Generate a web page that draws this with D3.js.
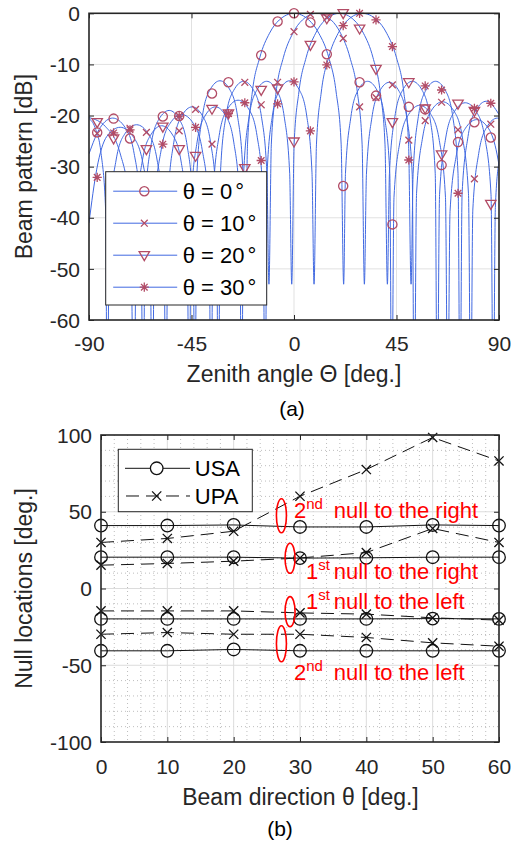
<!DOCTYPE html>
<html><head><meta charset="utf-8">
<script src="https://cdn.jsdelivr.net/npm/d3@7"></script>
<style>
body{margin:0;background:#fff}
svg{display:block}
text{font-family:'Liberation Sans',Arial,Helvetica,sans-serif}
</style>
</head><body>
<svg id="c" width="521" height="844"></svg>
<script>
// ---------------- Panel (a) data ----------------
const zenithTicks = [-90, -45, 0, 45, 90];
const dbTicks = [0, -10, -20, -30, -40, -50, -60];
const beamLabels = ["θ = 0", "θ = 10", "θ = 20", "θ = 30"];
// sample angles where markers are shown
const markerAngles = [-86.4,-79.2,-72,-64.8,-57.6,-50.4,-43.2,-36,-28.8,-21.6,-14.4,-7.2,0,7.2,14.4,21.6,28.8,36,43.2,50.4,57.6,64.8,72,79.2,86.4];
const marks0  = [-23.3,-20.6,-24.5,-33.4,-20.2,-20.1,null,-15.7,-13.5,null,-8.2,-1.6,0,-1.8,-8.0,-33.8,-13.5,-16.1,-41.3,-18.3,-18.8,-29.7,-25.2,-21.3,-24.3];
const marks10 = [-23.5,null,-22.5,-23.3,null,-23.0,-18.8,-25.6,-19.6,-13.5,-17.9,-13.5,-3.6,-0.2,-0.8,-4.9,-18.3,-16.5,-14.0,-24.8,-21.0,-17.4,-22.8,-32.4,-21.7];
const marks20 = [-21.3,-24.5,null,-26.6,-22.2,-26.6,-27.9,-18.7,-19.6,-30.3,-15.0,-14.7,-25.1,-6.2,-1.0,0,-3.0,-10.9,-21.3,-13.5,-18.6,-27.6,-17.7,-19.1,-37.3];
const marks30 = [-32.1,-23.4,-22.8,null,-25.6,-20.1,-22.3,null,-19.6,-17.5,-28.8,-17.7,-13.4,-23.0,-10.1,-2.4,0,-1.3,-6.5,-28.7,-14.2,-15.0,-35.2,-18.6,-17.6];
// beam pattern traces [zenith angle, dB]
const curve0 = [[-90,-27.5],[-85.0,-22.3],[-79.6,-20.5],[-74.2,-22.3],[-70.2,-27.4],[-67.3,-38.5],[-66.2,-80],
 [-65.3,-37],[-62.8,-25.9],[-59.4,-20.8],[-54.8,-19.0],[-50.3,-20.8],[-46.9,-25.9],[-44.4,-37],[-43.5,-80],
 [-42.6,-31.2],[-40.2,-20.1],[-36.9,-15.0],[-32.5,-13.2],[-28.1,-15.0],[-24.8,-20.1],[-22.4,-31.2],[-21.5,-53],
 [-20.4,-25.6],[-18.3,-15.4],[-15.05,-8.7],[-10.75,-3.9],[-6.45,-1.3],[0,0],[6.5,-1.3],[10.9,-3.9],[15.3,-8.7],[18.5,-15.4],[20.7,-25.6],[21.8,-53],
 [22.6,-31.3],[25.0,-20.2],[28.1,-15.1],[32.3,-13.3],[36.5,-15.1],[39.7,-20.2],[42.05,-31.3],[42.9,-80],
 [43.9,-36],[46.6,-24.9],[50.3,-19.8],[55.2,-18],[60.1,-19.8],[63.8,-24.9],[66.5,-36],[67.5,-80],
 [68.5,-38.8],[71.3,-27.7],[75.1,-22.6],[80.2,-20.8],[85.5,-22.6],[89.2,-27.7],[90,-29.7]];
const curve10 = [[-90,-20.6],[-87.4,-22.3],[-84.7,-27.4],[-82.7,-38.5],[-82,-80],
 [-81.0,-39.8],[-78.1,-28.7],[-74.3,-23.6],[-69.1,-21.8],[-63.9,-23.6],[-60.1,-28.7],[-57.2,-39.8],[-56.2,-80],
 [-55.3,-36.3],[-52.75,-25.2],[-49.3,-20.1],[-44.7,-18.3],[-40.1,-20.1],[-36.65,-25.2],[-34.1,-36.3],[-33.2,-80],
 [-32.3,-31.3],[-29.9,-20.2],[-26.5,-15.1],[-22.1,-13.3],[-17.7,-15.1],[-14.3,-20.2],[-11.9,-31.3],[-11,-53],
 [-9.95,-25.6],[-7.85,-15.4],[-4.7,-8.7],[-0.5,-3.9],[3.7,-1.3],[10,0],[16.3,-1.3],[20.45,-3.9],[24.6,-8.7],[27.8,-15.4],[29.9,-25.6],[30.9,-53],
 [31.8,-31.5],[34.2,-20.4],[37.5,-15.3],[41.85,-13.5],[46.2,-15.3],[49.5,-20.4],[51.9,-31.5],[52.8,-80],
 [53.8,-35.3],[56.5,-24.2],[60.2,-19.1],[65.2,-17.3],[70.2,-19.1],[73.9,-24.2],[76.6,-35.3],[77.6,-80],
 [78.5,-38.5],[81.1,-27.4],[84.6,-22.3],[89.3,-20.5],[90,-20.6]];
const curve20 = [[-90,-20.4],[-82.7,-22.2],[-76.4,-27.3],[-71.9,-38.4],[-70.2,-80],
 [-69.2,-40],[-66.6,-28.9],[-62.9,-23.8],[-58.1,-22],[-53.3,-23.8],[-49.6,-28.9],[-47.0,-40],[-46,-80],
 [-45.1,-36.3],[-42.55,-25.2],[-39.1,-20.1],[-34.5,-18.3],[-29.9,-20.1],[-26.45,-25.2],[-23.9,-36.3],[-23,-80],
 [-22.1,-31.3],[-19.7,-20.2],[-16.4,-15.1],[-12,-13.3],[-7.6,-15.1],[-4.3,-20.2],[-1.9,-31.3],[-1,-53],
 [0.05,-25.6],[2.15,-15.4],[5.3,-8.7],[9.5,-3.9],[13.7,-1.3],[20,0],[26.3,-1.3],[30.5,-3.9],[34.7,-8.7],[37.85,-15.4],[39.95,-25.6],[41,-53],
 [41.9,-31.3],[44.3,-20.2],[47.6,-15.1],[51.95,-13.3],[56.3,-15.1],[59.6,-20.2],[62.0,-31.3],[62.9,-80],
 [63.9,-35.5],[66.6,-24.4],[70.3,-19.3],[75.2,-17.5],[80.1,-19.3],[83.8,-24.4],[86.5,-35.5],[87.5,-80],
 [88.4,-38],[90,-29.1]];
const curve30 = [[-90,-41],[-86.6,-30.5],[-82.2,-24.1],[-76.3,-22.3],[-70.7,-24.1],[-66.4,-29.2],[-63.3,-40.3],[-62.2,-80],
 [-61.2,-37.8],[-58.3,-26.7],[-54.5,-21.6],[-49.3,-19.8],[-44.1,-21.6],[-40.3,-26.7],[-37.4,-37.8],[-36.4,-80],
 [-35.45,-35],[-32.85,-23.9],[-29.3,-18.8],[-24.55,-17],[-19.8,-18.8],[-16.25,-23.9],[-13.65,-35],[-12.7,-80],
 [-11.8,-31.2],[-9.5,-20.1],[-6.25,-15],[-1.95,-13.2],[2.35,-15],[5.6,-20.1],[7.9,-31.2],[8.8,-53],
 [9.86,-25.6],[11.98,-15.4],[15.16,-8.7],[19.4,-3.9],[23.64,-1.3],[30,0],[36.4,-1.3],[40.7,-3.9],[45.0,-8.7],[48.2,-15.4],[50.3,-25.6],[51.4,-53],
 [52.3,-31.3],[54.6,-20.2],[57.85,-15.1],[62.15,-13.3],[66.45,-15.1],[69.7,-20.2],[72.0,-31.3],[72.9,-80],
 [73.8,-35.2],[76.4,-24.1],[79.8,-19],[84.45,-17.2],[90,-19.8]];

// ---------------- Panel (b) data ----------------
const beamDirs = [0, 10, 20, 30, 40, 50, 60];
const nullTicks = [-100, -50, 0, 50, 100];
const seriesNames = ["USA", "UPA"];
const usaRight2 = [41.0, 41.0, 41.4, 40.1, 40.1, 41.4, 41.0];
const usaRight1 = [20.4, 20.4, 20.4, 19.8, 20.0, 20.4, 20.4];
const usaLeft1  = [-19.8, -19.8, -19.8, -19.8, -19.8, -19.6, -19.8];
const usaLeft2  = [-40.6, -40.6, -39.7, -40.6, -40.6, -40.6, -40.6];
const upaRight2 = [30.0, 32.6, 37.3, 60.1, 77.5, 98.4, 83.1];
const upaRight1 = [15.2, 16.3, 17.8, 19.9, 23.4, 39.1, 30.0];
const upaLeft1  = [-14.6, -14.6, -14.6, -15.9, -16.7, -19.1, -20.6];
const upaLeft2  = [-29.8, -28.7, -29.8, -29.8, -31.9, -35.4, -37.6];

// ---------------- drawing ----------------
const INK = "#262626";
const BLUE = "#4169e1";
const MARK = "#b24c66";
const FONT = "'Liberation Sans',Arial,Helvetica,sans-serif";
const DASH = "13,7";
const svg = d3.select("#c");
const defs = svg.append("defs");

const symbols = {
  circle: g => g.append("circle").attr("r", 4.6),
  cross: g => g.append("path").attr("d", "M-3.4,-3.4L3.4,3.4M-3.4,3.4L3.4,-3.4"),
  tri: g => g.append("path").attr("d", "M-5.2,-3.6L5.2,-3.6L0,5.4Z"),
  star: g => g.append("path").attr("d", "M-4.6,0H4.6M0,-4.6V4.6M-3.3,-3.3L3.3,3.3M-3.3,3.3L3.3,-3.3")
};

function styleAxis(g) {
  g.select(".domain").remove();
  g.selectAll(".tick line").attr("stroke", INK).attr("stroke-width", 1);
  g.selectAll("text").attr("fill", INK).style("font-size", "21px").style("font-family", FONT);
}

// ===== Panel (a) =====
const xA = d3.scaleLinear().domain([-90, 90]).range([89, 499]);
const yA = d3.scaleLinear().domain([-60, 0]).range([320, 13.3]);
const gA = svg.append("g");

defs.append("clipPath").attr("id", "clipA").append("rect")
  .attr("x", xA(-90)).attr("y", yA(0)).attr("width", xA(90) - xA(-90)).attr("height", yA(-60) - yA(0));

gA.selectAll("line.gx").data(zenithTicks.slice(1, -1)).join("line")
  .attr("x1", d => xA(d)).attr("x2", d => xA(d)).attr("y1", yA(0)).attr("y2", yA(-60))
  .attr("stroke", "#e1e1e1").attr("stroke-width", 1);
gA.selectAll("line.gy").data(dbTicks.slice(1, -1)).join("line")
  .attr("y1", d => yA(d)).attr("y2", d => yA(d)).attr("x1", xA(-90)).attr("x2", xA(90))
  .attr("stroke", "#e1e1e1").attr("stroke-width", 1);

const curves = [curve0, curve10, curve20, curve30];
const marks = [marks0, marks10, marks20, marks30];
const symA = ["circle", "cross", "tri", "star"];
const lineA = d3.line().x(d => xA(d[0])).y(d => yA(d[1])).curve(d3.curveMonotoneX);

const gCurves = gA.append("g").attr("clip-path", "url(#clipA)");
curves.forEach(c => {
  gCurves.append("path").datum(c).attr("d", lineA)
    .attr("fill", "none").attr("stroke", BLUE).attr("stroke-width", 1);
});

marks.forEach((m, s) => {
  const pts = markerAngles.map((a, i) => [a, m[i]]).filter(p => p[1] !== null);
  const gm = gA.append("g").attr("fill", "none").attr("stroke", MARK).attr("stroke-width", 1.3);
  pts.forEach(p => {
    const g = gm.append("g").attr("transform", `translate(${xA(p[0])},${yA(p[1])})`);
    symbols[symA[s]](g);
  });
});

// axes
gA.append("g").attr("transform", `translate(0,${yA(-60)})`)
  .call(d3.axisBottom(xA).tickValues(zenithTicks).tickSize(-5).tickSizeOuter(0).tickFormat(d => String(d)))
  .call(styleAxis).call(g => g.selectAll("text").attr("y", 16.5).attr("dy", "0.71em"));
gA.append("g").attr("transform", `translate(0,${yA(0)})`)
  .call(d3.axisTop(xA).tickValues(zenithTicks).tickSize(-5).tickSizeOuter(0).tickFormat(""))
  .call(styleAxis);
gA.append("g").attr("transform", `translate(${xA(-90)},0)`)
  .call(d3.axisLeft(yA).tickValues(dbTicks).tickSize(-5).tickSizeOuter(0).tickFormat(d => String(d)))
  .call(styleAxis).call(g => g.selectAll("text").attr("x", -9).attr("dy", "0.34em"));
gA.append("g").attr("transform", `translate(${xA(90)},0)`)
  .call(d3.axisRight(yA).tickValues(dbTicks).tickSize(-5).tickSizeOuter(0).tickFormat(""))
  .call(styleAxis);
gA.append("rect").attr("x", xA(-90)).attr("y", yA(0)).attr("width", xA(90) - xA(-90)).attr("height", yA(-60) - yA(0))
  .attr("fill", "none").attr("stroke", INK).attr("stroke-width", 1.6);

// legend (a)
const legA = gA.append("g").attr("transform", "translate(105.7,171.7)");
legA.append("rect").attr("width", 161).attr("height", 133.3).attr("fill", "#fff").attr("stroke", INK).attr("stroke-width", 1);
beamLabels.forEach((lab, i) => {
  const y = 19.5 + i * 32;
  legA.append("line").attr("x1", 7.5).attr("x2", 71.5).attr("y1", y).attr("y2", y).attr("stroke", BLUE).attr("stroke-width", 1);
  const g = legA.append("g").attr("transform", `translate(38.6,${y})`)
    .attr("fill", "none").attr("stroke", MARK).attr("stroke-width", 1.3);
  symbols[symA[i]](g);
  const t = legA.append("text").attr("x", 77).attr("y", y + 8).attr("fill", "#000").style("font-size", "22px");
  t.append("tspan").text(lab);
  t.append("tspan").attr("dx", 3).text("°");
});

// labels (a)
svg.append("text").attr("transform", `translate(32,${(yA(0) + yA(-60)) / 2}) rotate(-90)`)
  .attr("text-anchor", "middle").attr("fill", INK).style("font-size", "23px").text("Beam pattern [dB]");
svg.append("text").attr("x", (xA(-90) + xA(90)) / 2).attr("y", 381.5)
  .attr("text-anchor", "middle").attr("fill", INK).style("font-size", "23px").text("Zenith angle Θ [deg.]");
svg.append("text").attr("x", 292).attr("y", 416).attr("text-anchor", "middle").attr("fill", "#000")
  .style("font-size", "21px").text("(a)");

// ===== Panel (b) =====
const xB = d3.scaleLinear().domain([0, 60]).range([101, 499]);
const yB = d3.scaleLinear().domain([-100, 100]).range([742, 435]);
const gB = svg.append("g");

const minorX = d3.range(2, 60, 2).filter(v => v % 10 !== 0);
const minorY = d3.range(-90, 100, 10).filter(v => v % 50 !== 0);
gB.selectAll("line.mx").data(minorX).join("line")
  .attr("x1", d => xB(d)).attr("x2", d => xB(d)).attr("y1", yB(100)).attr("y2", yB(-100))
  .attr("stroke", "#bdbdbd").attr("stroke-width", 1).attr("stroke-dasharray", "1,3");
gB.selectAll("line.my").data(minorY).join("line")
  .attr("y1", d => yB(d)).attr("y2", d => yB(d)).attr("x1", xB(0)).attr("x2", xB(60))
  .attr("stroke", "#bdbdbd").attr("stroke-width", 1).attr("stroke-dasharray", "1,3");
gB.selectAll("line.gx").data(beamDirs.slice(1, -1)).join("line")
  .attr("x1", d => xB(d)).attr("x2", d => xB(d)).attr("y1", yB(100)).attr("y2", yB(-100))
  .attr("stroke", "#dcdcdc").attr("stroke-width", 1);
gB.selectAll("line.gy").data(nullTicks.slice(1, -1)).join("line")
  .attr("y1", d => yB(d)).attr("y2", d => yB(d)).attr("x1", xB(0)).attr("x2", xB(60))
  .attr("stroke", "#dcdcdc").attr("stroke-width", 1);

const lineB = d3.line().x((d, i) => xB(beamDirs[i])).y(d => yB(d));
const usa = [usaRight2, usaRight1, usaLeft1, usaLeft2];
const upa = [upaRight2, upaRight1, upaLeft1, upaLeft2];
upa.forEach(s => {
  gB.append("path").datum(s).attr("d", lineB).attr("fill", "none").attr("stroke", "#111")
    .attr("stroke-width", 1).attr("stroke-dasharray", DASH);
});
usa.forEach(s => {
  gB.append("path").datum(s).attr("d", lineB).attr("fill", "none").attr("stroke", "#111").attr("stroke-width", 1);
});
usa.forEach(s => {
  gB.append("g").selectAll("circle").data(s).join("circle")
    .attr("cx", (d, i) => xB(beamDirs[i])).attr("cy", d => yB(d)).attr("r", 6.3)
    .attr("fill", "none").attr("stroke", "#111").attr("stroke-width", 1.3);
});
upa.forEach(s => {
  gB.append("g").selectAll("path").data(s).join("path")
    .attr("transform", (d, i) => `translate(${xB(beamDirs[i])},${yB(d)})`)
    .attr("d", "M-4.6,-4.6L4.6,4.6M-4.6,4.6L4.6,-4.6")
    .attr("fill", "none").attr("stroke", "#111").attr("stroke-width", 1.3);
});

gB.append("g").attr("transform", `translate(0,${yB(-100)})`)
  .call(d3.axisBottom(xB).tickValues(beamDirs).tickSize(-5).tickSizeOuter(0).tickFormat(d => String(d)))
  .call(styleAxis).call(g => g.selectAll("text").attr("y", 17).attr("dy", "0.71em"));
gB.append("g").attr("transform", `translate(0,${yB(100)})`)
  .call(d3.axisTop(xB).tickValues(beamDirs).tickSize(-5).tickSizeOuter(0).tickFormat(""))
  .call(styleAxis);
gB.append("g").attr("transform", `translate(${xB(0)},0)`)
  .call(d3.axisLeft(yB).tickValues(nullTicks).tickSize(-5).tickSizeOuter(0).tickFormat(d => String(d)))
  .call(styleAxis).call(g => g.selectAll("text").attr("x", -9).attr("dy", "0.34em"));
gB.append("g").attr("transform", `translate(${xB(60)},0)`)
  .call(d3.axisRight(yB).tickValues(nullTicks).tickSize(-5).tickSizeOuter(0).tickFormat(""))
  .call(styleAxis);
gB.append("rect").attr("x", xB(0)).attr("y", yB(100)).attr("width", xB(60) - xB(0)).attr("height", yB(-100) - yB(100))
  .attr("fill", "none").attr("stroke", INK).attr("stroke-width", 1.6);

// legend (b)
const legB = gB.append("g").attr("transform", "translate(118.3,449.3)");
legB.append("rect").attr("width", 134).attr("height", 62.4).attr("fill", "#fff").attr("stroke", INK).attr("stroke-width", 1);
seriesNames.forEach((name, i) => {
  const y = 19 + i * 27.7;
  const ln = legB.append("line").attr("x1", 6.7).attr("x2", 71.7).attr("y1", y).attr("y2", y)
    .attr("stroke", "#111").attr("stroke-width", 1);
  if (i === 0) {
    legB.append("circle").attr("cx", 38.4).attr("cy", y).attr("r", 6.3).attr("fill", "#fff").attr("stroke", "#111").attr("stroke-width", 1.3);
  } else {
    ln.attr("stroke-dasharray", DASH).attr("stroke-dashoffset", -1);
    legB.append("path").attr("transform", `translate(38.4,${y})`).attr("d", "M-4.6,-4.6L4.6,4.6M-4.6,4.6L4.6,-4.6")
      .attr("fill", "none").attr("stroke", "#111").attr("stroke-width", 1.3);
  }
  legB.append("text").attr("x", 76.5).attr("y", y + 8).attr("fill", "#000").style("font-size", "22px").text(name);
});

// annotations (b)
const annots = [
  {num: "2", sup: "nd", tail: "null to the right", nx: 29.1, base: 46.0, cx: 27.2, cy: 47.4, ry: 11.1},
  {num: "1", sup: "st", tail: "null to the right", nx: 30.9, base: 6.5, cx: 28.5, cy: 19.7, ry: 9.8},
  {num: "1", sup: "st", tail: "null to the left", nx: 30.9, base: -13.5, cx: 28.5, cy: -15.1, ry: 9.8},
  {num: "2", sup: "nd", tail: "null to the left", nx: 29.1, base: -59.7, cx: 27.2, cy: -36.0, ry: 11.7}
];
const tailX = 35.1;
annots.forEach(a => {
  gB.append("ellipse").attr("cx", xB(a.cx)).attr("cy", yB(a.cy)).attr("rx", 5)
    .attr("ry", yB(0) - yB(a.ry)).attr("fill", "none").attr("stroke", "#ff0000").attr("stroke-width", 1.6);
  const t = gB.append("text").attr("fill", "#ff0000").style("font-size", "22px")
    .attr("x", xB(a.nx)).attr("y", yB(a.base));
  t.append("tspan").text(a.num);
  t.append("tspan").attr("dy", -9).style("font-size", "15px").text(a.sup);
  t.append("tspan").attr("x", xB(tailX)).attr("dy", 9).text(a.tail);
});

// labels (b)
svg.append("text").attr("transform", `translate(32,${(yB(100) + yB(-100)) / 2}) rotate(-90)`)
  .attr("text-anchor", "middle").attr("fill", INK).style("font-size", "23px").text("Null locations [deg.]");
svg.append("text").attr("x", 300.5).attr("y", 805).attr("text-anchor", "middle").attr("fill", INK)
  .style("font-size", "23px").text("Beam direction θ [deg.]");
svg.append("text").attr("x", 280).attr("y", 836).attr("text-anchor", "middle").attr("fill", "#000")
  .style("font-size", "21px").text("(b)");
</script>
</body></html>
